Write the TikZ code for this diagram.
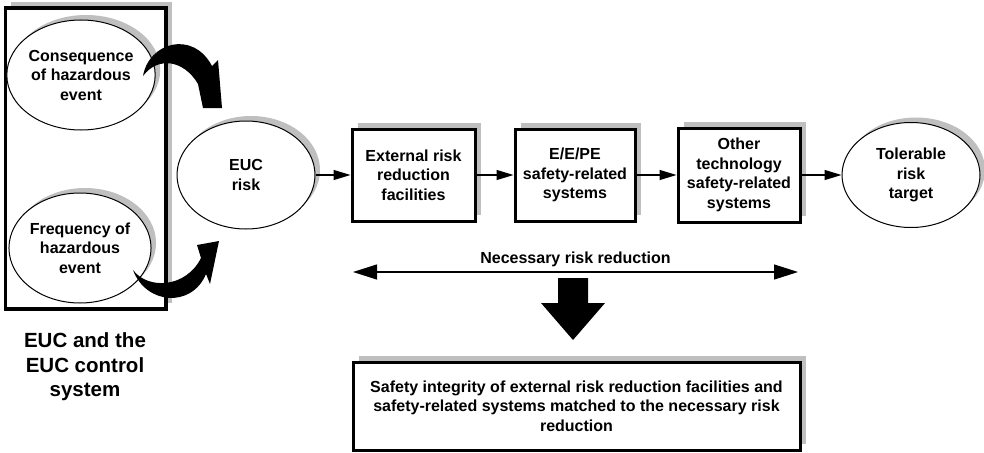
\documentclass[tikz,border=0pt]{standalone}
\usepackage{fontspec}
\setmainfont{Liberation Sans}
\usetikzlibrary{shapes.geometric,shadows,arrows.meta}

\begin{document}
\begin{tikzpicture}[x=1pt, y=-1pt,
    txt/.style={font=\bfseries\fontsize{16}{19.5}\selectfont, align=center},
    gshadow/.style={drop shadow={shadow xshift=#1, shadow yshift=#1, fill=black!25, opacity=1}},
    oval/.style={ellipse, draw, line width=1pt, fill=white, txt, inner sep=0pt, gshadow=5pt},
    block/.style={rectangle, draw, line width=3pt, fill=white, txt, inner sep=0pt, gshadow=6pt},
    flow/.style={-{Triangle[length=17pt, width=10pt]}, line width=1.2pt}]
  \useasboundingbox (0,0) rectangle (984,452);

  \node[rectangle, draw, line width=3.5pt, fill=white, minimum width=160.5pt, minimum height=301pt, gshadow=6pt] (1) at (85.5,158.5) {};
  \node[oval, minimum width=132pt, minimum height=110pt] (2) at (81,75) {Consequence\\of hazardous\\event};
  \node[oval, minimum width=136pt, minimum height=110pt] (3) at (80,248) {Frequency of\\hazardous\\event};
  \node[font=\bfseries\fontsize{20.5}{24.5}\selectfont, align=center] (10) at (85,367) {EUC and the\\EUC control\\system};

  % curved block arrows into the EUC risk
  \fill (143,76) .. controls (149,42) and (193,30) .. (212,66) -- (218,60) -- (222,108) -- (203,108) -- (198,84) .. controls (184,60) and (158,56) .. (143,76) -- cycle;
  \fill (133,270) .. controls (146,305) and (192,308) .. (206,274) -- (210,284) -- (219,241) -- (197,245) -- (201,258) .. controls (186,288) and (148,290) .. (133,270) -- cycle;

  \node[oval, minimum width=138pt, minimum height=108pt] (4) at (246,175) {EUC\\risk};
  \node[block, minimum width=123pt, minimum height=92pt] (5) at (413.5,175) {External risk\\reduction\\facilities};
  \node[block, minimum width=120pt, minimum height=92pt] (6) at (575,175) {E/E/PE\\safety-related\\systems};
  \node[block, minimum width=122pt, minimum height=94pt] (7) at (739,175) {Other\\technology\\safety-related\\systems};
  \node[oval, minimum width=138pt, minimum height=105pt] (8) at (911,175) {Tolerable\\risk\\target};

  \path[flow] (4) edge (5) (5) edge (6) (6) edge (7) (7) edge (8);

  \coordinate (a) at (353,272);
  \coordinate (b) at (798,272);
  \draw[{Triangle[length=24pt, width=15pt]}-{Triangle[length=24pt, width=15pt]}, line width=1.2pt] (a) -- node[above, txt, yshift=1pt] (11) {Necessary risk reduction} (b);

  \coordinate (c) at (573,278);
  \fill ([xshift=-15pt]c) -- ++(30,0) -- ++(0,25) -- ++(17,0) -- ++(-32,37) -- ++(-32,-37) -- ++(17,0) -- cycle;

  \node[block, minimum width=447pt, minimum height=88pt] (9) at (576.5,406) {Safety integrity of external risk reduction facilities and\\safety-related systems matched to the necessary risk\\reduction};
\end{tikzpicture}
\end{document}
